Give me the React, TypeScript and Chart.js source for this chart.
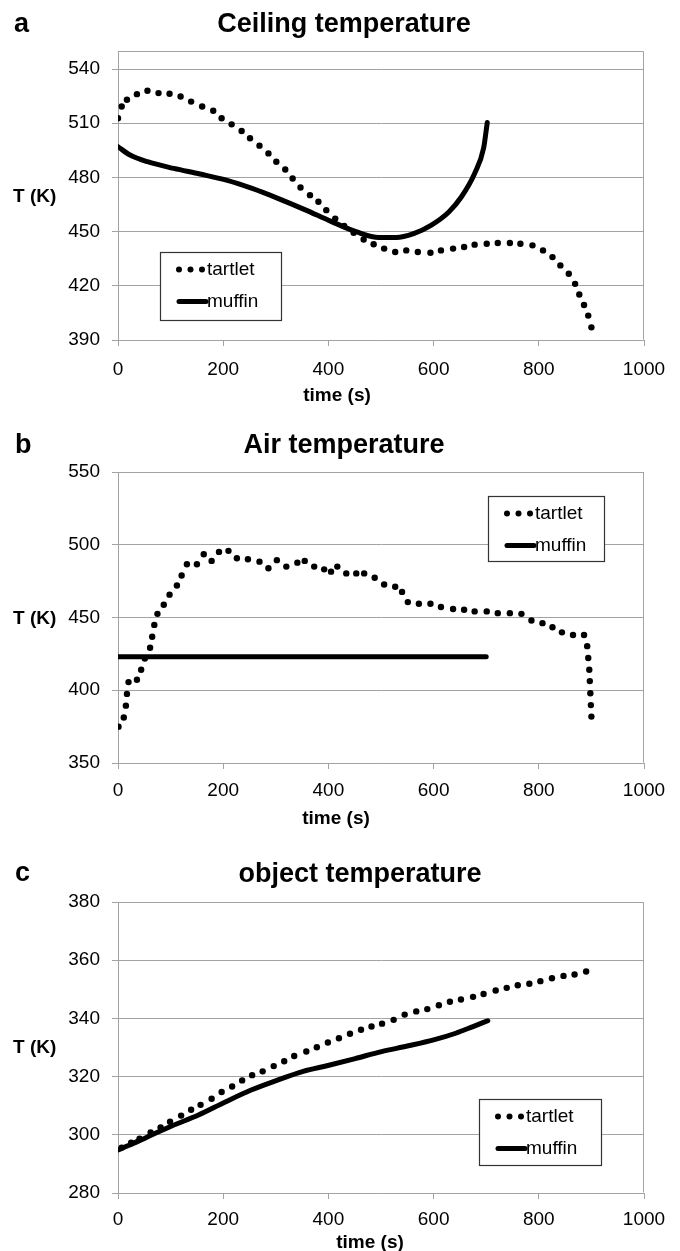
import React, { useEffect, useRef } from "react";
import { Chart, registerables } from "chart.js";

Chart.register(...registerables);

const FONT = "'Liberation Sans', Arial, Helvetica, sans-serif";
const GRID = "#a3a3a3";

// ---------- Panel a: Ceiling temperature ----------
const ceilTartletTime = [0, 7, 17, 36, 56, 77, 98, 119, 139, 160, 181, 197, 216, 235, 251, 269, 286, 301, 318, 332, 347, 365, 381, 396, 413, 430, 448, 467, 486, 506, 527, 548, 570, 594, 614, 637, 658, 678, 701, 722, 745, 765, 788, 808, 826, 841, 857, 869, 877, 886, 894, 900];
const ceilTartletTemp = [512.8, 519.3, 523, 526.1, 528, 526.7, 526.3, 524.8, 522, 519.3, 516.9, 512.8, 509.4, 505.7, 501.7, 497.6, 493.3, 488.7, 484.4, 479.4, 474.4, 470.2, 466.5, 461.9, 457.2, 453.1, 449.4, 445.6, 443, 440.6, 438.7, 439.6, 438.7, 438.3, 439.6, 440.6, 441.5, 442.8, 443.3, 443.7, 443.7, 443.3, 442.4, 439.6, 435.9, 431.3, 426.7, 421.1, 415.2, 409.4, 403.5, 397];
const ceilMuffinTime = [0, 23, 56, 106, 156, 206, 255, 305, 355, 405, 454, 496, 529, 562, 595, 629, 653, 678, 695, 702];
const ceilMuffinTemp = [497, 492.4, 488.7, 485, 481.9, 478.5, 473.9, 468.3, 462.2, 455.7, 449.8, 446.7, 446.7, 448.9, 453.5, 460.9, 469.3, 482.2, 496.1, 510.4];
const ceilYTicks = [390, 420, 450, 480, 510, 540];

// ---------- Panel b: Air temperature ----------
const airTartletTime = [1, 11, 15, 17, 20, 36, 44, 51, 61, 65, 69, 75, 87, 98, 112, 121, 131, 150, 163, 178, 192, 210, 226, 247, 269, 286, 302, 320, 341, 355, 373, 392, 405, 417, 434, 453, 468, 488, 506, 527, 540, 551, 572, 594, 614, 637, 658, 678, 701, 722, 745, 767, 786, 807, 826, 844, 865, 886, 892, 894, 896, 897, 898, 899, 900];
const airTartletTemp = [375, 381.3, 389.4, 397.5, 405.6, 407.2, 414.1, 421.8, 429.2, 436.8, 444.9, 452.5, 458.8, 465.7, 472, 478.9, 486.6, 486.6, 493.5, 488.9, 495.1, 495.8, 490.7, 490, 488.4, 483.8, 489.4, 485, 487.7, 488.9, 485, 483.1, 481.5, 485, 480.3, 480.3, 480.3, 477.3, 472.7, 471.1, 467.6, 460.6, 459.5, 459.5, 457.2, 455.8, 455.3, 454.2, 454.2, 453, 453, 452.5, 447.9, 446.1, 443.3, 439.8, 438, 438, 430.3, 422.2, 414.1, 406.3, 397.9, 389.8, 381.9];
const airMuffinTime = [0, 700];
const airMuffinTemp = [423, 423];
const airYTicks = [350, 400, 450, 500, 550];

// ---------- Panel c: object temperature ----------
const objTartletTime = [7, 25, 41, 62, 81, 99, 120, 139, 157, 178, 197, 217, 236, 255, 275, 296, 316, 335, 358, 378, 399, 420, 441, 462, 482, 502, 524, 545, 567, 588, 610, 631, 652, 675, 695, 718, 739, 760, 782, 803, 825, 847, 868, 890];
const objTartletTemp = [295.6, 297.3, 298.7, 300.8, 302.5, 304.5, 306.6, 308.6, 310.3, 312.4, 314.7, 316.6, 318.7, 320.5, 321.8, 323.6, 325.3, 327.1, 328.6, 330.1, 331.7, 333.2, 334.7, 336.1, 337.2, 338.2, 339.5, 341.3, 342.4, 343.2, 344.5, 345.7, 346.5, 347.4, 348.4, 349.6, 350.5, 351.4, 351.9, 352.8, 353.8, 354.6, 355.1, 356.1];
const objMuffinTime = [0, 21, 54, 103, 153, 203, 252, 302, 352, 401, 451, 501, 550, 600, 642, 675, 703];
const objMuffinTemp = [294.8, 296.4, 299.1, 303.1, 306.8, 311.2, 315.3, 318.7, 321.8, 323.9, 326.2, 328.6, 330.5, 332.6, 334.9, 337.2, 339.2];
const objYTicks = [280, 300, 320, 340, 360, 380];

// ---------- shared labels ----------
const seriesNames = ["tartlet", "muffin"];
const yLabel = "T (K)";
const xLabel = "time (s)";
const xTicks = [0, 200, 400, 600, 800, 1000];

type PanelCfg = {
  letter: string;
  title: string;
  top: number;
  height: number;
  area: { left: number; right: number; top: number; bottom: number };
  yMin: number;
  yMax: number;
  yTicks: number[];
  xPad: number;
  tartlet: { t: number[]; v: number[] };
  muffin: { t: number[]; v: number[] };
  letterPos: [number, number];
  titlePos: [number, number];
  tkY: number;
  timePos: [number, number];
  legendBox: [number, number, number, number];
};

const panels: PanelCfg[] = [
  {
    letter: "a",
    title: "Ceiling temperature",
    top: 0,
    height: 410,
    area: { left: 118, right: 644, top: 51, bottom: 340 },
    yMin: 390,
    yMax: 550,
    yTicks: ceilYTicks,
    xPad: 12,
    tartlet: { t: ceilTartletTime, v: ceilTartletTemp },
    muffin: { t: ceilMuffinTime, v: ceilMuffinTemp },
    letterPos: [14, 32],
    titlePos: [344, 32],
    tkY: 197,
    timePos: [337, 396],
    legendBox: [160, 252, 121, 68],
  },
  {
    letter: "b",
    title: "Air temperature",
    top: 410,
    height: 420,
    area: { left: 118, right: 644, top: 62, bottom: 353 },
    yMin: 350,
    yMax: 550,
    yTicks: airYTicks,
    xPad: 10,
    tartlet: { t: airTartletTime, v: airTartletTemp },
    muffin: { t: airMuffinTime, v: airMuffinTemp },
    letterPos: [15, 43],
    titlePos: [344, 43],
    tkY: 209,
    timePos: [336, 409],
    legendBox: [488, 86, 116, 65],
  },
  {
    letter: "c",
    title: "object temperature",
    top: 830,
    height: 421,
    area: { left: 118, right: 644, top: 72, bottom: 363 },
    yMin: 280,
    yMax: 380,
    yTicks: objYTicks,
    xPad: 9,
    tartlet: { t: objTartletTime, v: objTartletTemp },
    muffin: { t: objMuffinTime, v: objMuffinTemp },
    letterPos: [15, 51],
    titlePos: [360, 52],
    tkY: 218,
    timePos: [370, 413],
    legendBox: [479, 269, 122, 66],
  },
];

const framePlugin = {
  id: "frame",
  beforeDatasetsDraw(chart: any) {
    const { ctx, chartArea } = chart;
    ctx.save();
    ctx.strokeStyle = GRID;
    ctx.lineWidth = 1;
    const l = Math.round(chartArea.left) + 0.5;
    const r = Math.round(chartArea.right) - 0.5;
    const t = Math.round(chartArea.top) + 0.5;
    const b = Math.round(chartArea.bottom) - 0.5;
    ctx.beginPath();
    ctx.moveTo(l, t);
    ctx.lineTo(r, t);
    ctx.lineTo(r, b);
    ctx.stroke();
    ctx.restore();
  },
};

const textPlugin = {
  id: "panelText",
  afterDraw(chart: any, _args: any, opts: any) {
    const p: PanelCfg = opts.panel;
    if (!p) return;
    const ctx = chart.ctx as CanvasRenderingContext2D;
    ctx.save();
    ctx.fillStyle = "#000";
    ctx.textBaseline = "alphabetic";
    ctx.textAlign = "left";
    ctx.font = `bold 27px ${FONT}`;
    ctx.fillText(p.letter, p.letterPos[0], p.letterPos[1]);
    ctx.textAlign = "center";
    ctx.fillText(p.title, p.titlePos[0], p.titlePos[1]);
    ctx.font = `bold 19px ${FONT}`;
    ctx.textBaseline = "middle";
    ctx.textAlign = "left";
    ctx.fillText(yLabel, 13, p.tkY);
    ctx.textAlign = "center";
    ctx.fillText(xLabel, p.timePos[0], p.timePos[1]);

    // legend
    const [lx, ly, lw, lh] = p.legendBox;
    ctx.fillStyle = "#fff";
    ctx.fillRect(lx, ly, lw, lh);
    ctx.strokeStyle = "#333";
    ctx.lineWidth = 1.2;
    ctx.strokeRect(lx + 0.5, ly + 0.5, lw, lh);
    const ds = chart.data.datasets;
    const row1 = ly + 17.5;
    const row2 = ly + 49.5;
    ctx.fillStyle = "#000";
    [19, 30.5, 42].forEach((dx) => {
      ctx.beginPath();
      ctx.arc(lx + dx, row1, 3, 0, Math.PI * 2);
      ctx.fill();
    });
    ctx.strokeStyle = "#000";
    ctx.lineWidth = 5;
    ctx.lineCap = "round";
    ctx.beginPath();
    ctx.moveTo(lx + 19, row2);
    ctx.lineTo(lx + 46, row2);
    ctx.stroke();
    ctx.font = `19px ${FONT}`;
    ctx.textAlign = "left";
    ctx.textBaseline = "middle";
    ctx.fillText(ds[0].label, lx + 47, row1);
    ctx.fillText(ds[1].label, lx + 47, row2);
    ctx.restore();
  },
};

function PanelChart({ p }: { p: PanelCfg }) {
  const ref = useRef<HTMLCanvasElement | null>(null);
  useEffect(() => {
    if (!ref.current) return;
    const chart = new Chart(ref.current, {
      type: "line",
      data: {
        datasets: [
          {
            label: seriesNames[0],
            data: p.tartlet.t.map((t, i) => ({ x: t, y: p.tartlet.v[i] })),
            showLine: false,
            pointRadius: 3.2,
            pointHoverRadius: 3.2,
            pointBorderWidth: 0,
            pointBackgroundColor: "#000",
            borderColor: "#000",
          },
          {
            label: seriesNames[1],
            data: p.muffin.t.map((t, i) => ({ x: t, y: p.muffin.v[i] })),
            borderColor: "#000",
            borderWidth: 5,
            borderCapStyle: "round",
            borderJoinStyle: "round",
            cubicInterpolationMode: "monotone",
            pointRadius: 0,
            pointHoverRadius: 0,
            fill: false,
          },
        ],
      },
      options: {
        responsive: false,
        animation: false,
        events: [],
        layout: {
          padding: { top: p.area.top, right: 680 - p.area.right, left: 0, bottom: 0 },
        },
        plugins: {
          legend: { display: false },
          title: { display: false },
          tooltip: { enabled: false },
          panelText: { panel: p },
        } as any,
        scales: {
          x: {
            type: "linear",
            min: xTicks[0],
            max: xTicks[xTicks.length - 1],
            ticks: {
              color: "#000",
              font: { family: FONT, size: 19 },
              padding: p.xPad,
              maxRotation: 0,
              callback: (v: any) => String(v),
            },
            grid: {
              drawOnChartArea: false,
              drawTicks: true,
              tickLength: 6,
              color: GRID,
            },
            border: { display: true, color: GRID, width: 1 },
            afterBuildTicks: (s: any) => {
              s.ticks = xTicks.map((v) => ({ value: v }));
            },
            afterFit: (s: any) => {
              s.height = p.height - p.area.bottom;
            },
          },
          y: {
            type: "linear",
            min: p.yMin,
            max: p.yMax,
            ticks: {
              color: "#000",
              font: { family: FONT, size: 19 },
              padding: 12,
              callback: (v: any) => String(v),
            },
            grid: {
              drawOnChartArea: true,
              drawTicks: true,
              tickLength: 6,
              color: GRID,
            },
            border: { display: true, color: GRID, width: 1 },
            afterBuildTicks: (s: any) => {
              s.ticks = p.yTicks.map((v) => ({ value: v }));
            },
            afterFit: (s: any) => {
              s.width = p.area.left;
            },
          },
        },
      } as any,
      plugins: [framePlugin, textPlugin],
    });
    return () => chart.destroy();
  }, [p]);
  return (
    <canvas
      ref={ref}
      width={680}
      height={p.height}
      style={{ position: "absolute", left: 0, top: p.top, width: 680, height: p.height, display: "block" }}
    />
  );
}

export default function App() {
  return (
    <div style={{ position: "absolute", left: 0, top: 0, width: 680, height: 1251, background: "#fff" }}>
      {panels.map((p) => (
        <PanelChart key={p.letter} p={p} />
      ))}
    </div>
  );
}
